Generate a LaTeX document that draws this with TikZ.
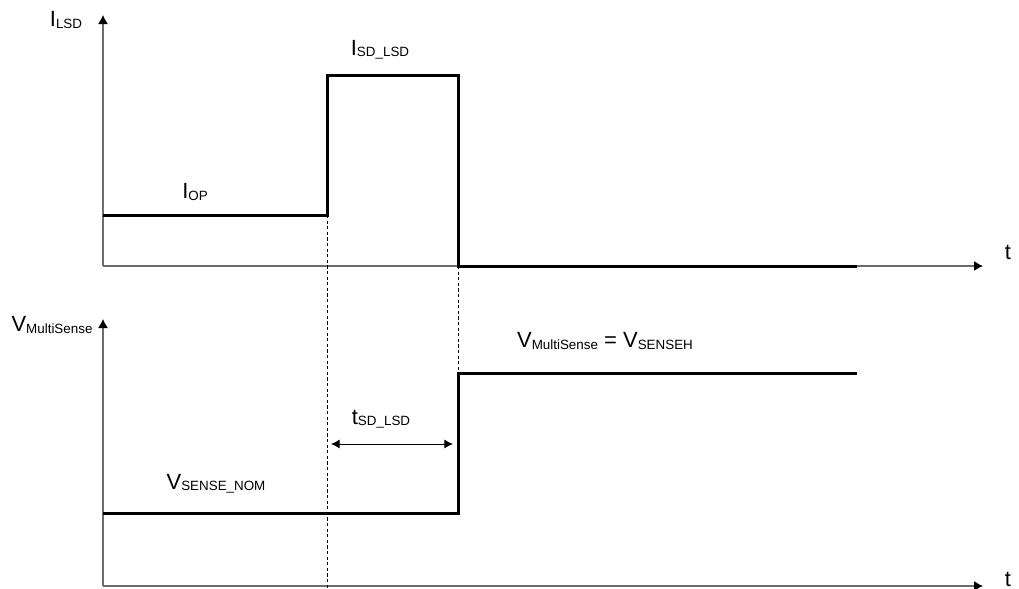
\documentclass[tikz,border=0pt]{standalone}
\usepackage{fontspec}
\setmainfont{Liberation Sans}
\usetikzlibrary{arrows.meta,positioning}
\newcommand{\sig}[2]{#1\raisebox{-0.6pt}{\fontsize{6.7}{7}\selectfont #2}}

\begin{document}
\begin{tikzpicture}[
    x=0.5pt, y=-0.5pt,
    font=\fontsize{11}{13}\selectfont,
    axis/.style={-{Latex[length=4.5pt,width=5pt,color=black]}, draw=gray!85!black, line width=0.55pt},
    wave/.style={line width=1.5pt, line join=miter},
    guide/.style={line width=0.45pt, dash pattern=on 1.6pt off 1.2pt},
    dim/.style={{Latex[length=4.3pt,width=4.5pt]}-{Latex[length=4.3pt,width=4.5pt]}, line width=0.5pt},
    lbl/.style={inner sep=0pt, anchor=center}
]
\useasboundingbox (0,0) rectangle (1019,589);
% axes
\coordinate (o1) at (103,266);
\coordinate (o2) at (103,586);
\coordinate (y1) at (103,15);
\coordinate (y2) at (103,319);
\coordinate (x1) at (983,266);
\coordinate (x2) at (983,586);
\draw[axis] (o1) -- (y1);
\draw[axis] (o1) -- (x1);
\draw[axis] (o2) -- (y2);
\draw[axis] (o2) -- (x2);
% current waveform
\coordinate (iop) at (103,215);
\coordinate (rise) at (327,215);
\coordinate (fall) at (458,266);
\coordinate (iend) at (857,266);
\draw[wave] (iop) -- (rise) -- (327,75) -- (458,75) -- (fall) -- (iend);
% sense waveform
\coordinate (vnom) at (103,513);
\coordinate (step) at (458,513);
\coordinate (vhigh) at (458,373);
\coordinate (vend) at (857,373);
\draw[wave] (vnom) -- (step) -- (vhigh) -- (vend);
% guides
\coordinate (gbot) at (327,589);
\draw[guide] (rise) -- (gbot);
\draw[guide] (fall) -- (vhigh);
\coordinate (dl) at (327,444);
\coordinate (dr) at (458,444);
\draw[dim, shorten <=2pt, shorten >=2.5pt] (dl) -- (dr);
% labels
\node[lbl] (ilsd) at (66,20) {\sig{I}{LSD}};
\node[lbl] (isd) at (380,50) {\sig{I}{SD\_LSD}};
\node[lbl] (iopl) at (195,192) {\sig{I}{OP}};
\node[lbl] (t1) at (1008,252) {t};
\node[lbl] (vms) at (52,325) {\sig{V}{MultiSense}};
\node[lbl] (vsh) at (605,341) {\sig{V}{MultiSense} = \sig{V}{SENSEH}};
\node[lbl] (tsd) at (381,419) {\sig{t}{SD\_LSD}};
\node[lbl] (vsn) at (216,484) {\sig{V}{SENSE\_NOM}};
\node[lbl] (t2) at (1008,579) {t};
\end{tikzpicture}
\end{document}
